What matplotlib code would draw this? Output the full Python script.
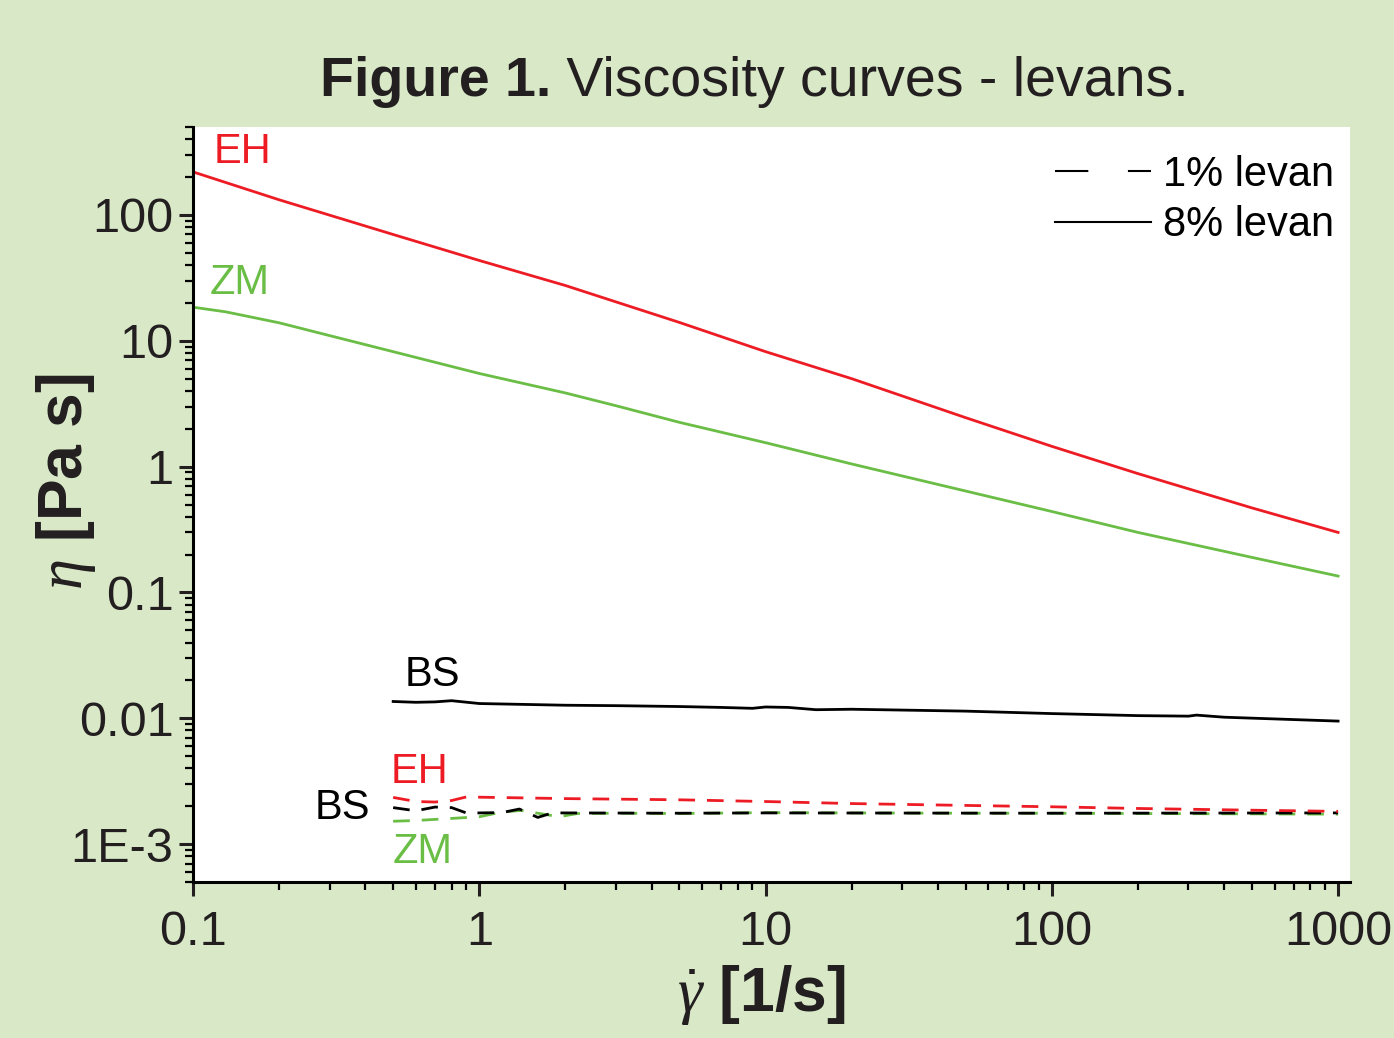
import matplotlib
matplotlib.use('Agg')
import matplotlib.pyplot as plt
from matplotlib.lines import Line2D
from matplotlib.ticker import LogLocator, FixedLocator, FixedFormatter, NullFormatter

plt.rcParams['font.family'] = ['Liberation Sans', 'DejaVu Sans']
plt.rcParams['mathtext.fontset'] = 'custom'
plt.rcParams['mathtext.rm'] = 'Liberation Sans'
plt.rcParams['mathtext.it'] = 'Liberation Serif:italic'
plt.rcParams['mathtext.bf'] = 'Liberation Sans:bold'

# datos (8% levan, lineas continuas)
x_eh8 = [0.1, 0.2, 0.5, 1, 2, 5, 10, 20, 50, 100, 200, 500, 1000]
y_eh8 = [220, 132, 70, 43.5, 27.5, 14, 8.2, 5.0, 2.45, 1.45, 0.88, 0.47, 0.30]

x_zm8 = [0.1, 0.13, 0.2, 0.3, 0.5, 1, 2, 3, 5, 10, 20, 50, 100, 200, 500, 1000]
y_zm8 = [18.5, 17.0, 13.9, 11.0, 8.2, 5.5, 3.85, 3.05, 2.25, 1.55, 1.05, 0.64, 0.44,
         0.30, 0.19, 0.135]

x_bs8 = [0.5, 0.6, 0.7, 0.8, 1.0, 2, 3, 5, 7, 9, 10, 12, 15, 20, 50, 100, 200, 300, 320, 400, 1000]
y_bs8 = [0.0136, 0.0134, 0.0135, 0.0138, 0.0131, 0.0127, 0.0126, 0.0124, 0.0122, 0.0120,
         0.0123, 0.0122, 0.0117, 0.0118, 0.0114, 0.0109, 0.0105, 0.0104, 0.0106, 0.0102, 0.0095]

# 1% levan, lineas discontinuas
x_eh1 = [0.5, 0.6, 0.7, 0.8, 0.9, 1.0, 2, 5, 10, 20, 50, 100, 200, 500, 1000]
y_eh1 = [0.00235, 0.00218, 0.00216, 0.00222, 0.00237, 0.00236, 0.00230, 0.00225, 0.00218,
         0.00210, 0.00203, 0.00198, 0.00192, 0.00186, 0.00182]

x_bs1 = [0.5, 0.6, 0.7, 0.8, 0.9, 1.0, 1.2, 1.38, 1.6, 1.8, 2, 5, 10, 100, 1000]
y_bs1 = [0.00195, 0.00184, 0.00197, 0.00195, 0.00177, 0.00177, 0.00178, 0.00190, 0.00163,
         0.00177, 0.00177, 0.00176, 0.00177, 0.00176, 0.00177]

x_zm1 = [0.5, 0.6, 0.8, 1.0, 1.2, 1.4, 1.6, 1.9, 2.2, 3, 5, 10, 20, 50, 100, 200, 500, 1000]
y_zm1 = [0.00152, 0.00154, 0.00160, 0.00165, 0.00180, 0.00185, 0.00176, 0.00165, 0.00175,
         0.00176, 0.00175, 0.00178, 0.00177, 0.00176, 0.00176, 0.00175, 0.00174, 0.00173]

xticks = [0.1, 1, 10, 100, 1000]
xticklabels = ['0.1', '1', '10', '100', '1000']
yticks = [1e-3, 1e-2, 1e-1, 1, 10, 100]
yticklabels = ['1E-3', '0.01', '0.1', '1', '10', '100']

rojo = '#ed1c24'
verde = '#6abd45'
negro = '#000000'
fondo = '#d9e9c7'
texto = '#231f20'

fig = plt.figure(figsize=(13.94, 10.38), dpi=100, facecolor=fondo)
ax = fig.add_axes([0.1385, 0.1503, 0.8299, 0.7273])
ax.set_facecolor('white')

guion = (0, (6, 4.3))
ax.plot(x_zm1, y_zm1, color=verde, lw=2, linestyle=guion)
ax.plot(x_bs1, y_bs1, color=negro, lw=2, linestyle=guion)
ax.plot(x_eh1, y_eh1, color=rojo, lw=2, linestyle=guion)

ax.plot(x_eh8, y_eh8, color=rojo, lw=2)
ax.plot(x_zm8, y_zm8, color=verde, lw=2)
ax.plot(x_bs8, y_bs8, color=negro, lw=2)

ax.set_xscale('log')
ax.set_yscale('log')
ax.set_xlim(0.1, 1100)
ax.set_ylim(5e-4, 500)

ax.xaxis.set_major_locator(FixedLocator(xticks))
ax.xaxis.set_major_formatter(FixedFormatter(xticklabels))
ax.xaxis.set_minor_locator(LogLocator(base=10, subs=range(2, 10), numticks=20))
ax.xaxis.set_minor_formatter(NullFormatter())
ax.yaxis.set_major_locator(FixedLocator(yticks))
ax.yaxis.set_major_formatter(FixedFormatter(yticklabels))
ax.yaxis.set_minor_locator(LogLocator(base=10, subs=range(2, 10), numticks=20))
ax.yaxis.set_minor_formatter(NullFormatter())

for lado in ['top', 'right']:
    ax.spines[lado].set_visible(False)
for lado in ['left', 'bottom']:
    ax.spines[lado].set_linewidth(2.2)

ax.tick_params(which='major', direction='out', length=10, width=2.2, labelsize=35,
               pad=4, colors=texto)
ax.tick_params(axis='x', which='major', pad=10.5)
ax.tick_params(which='minor', direction='out', length=6, width=1.6)

ax.set_xlabel(r'$\dot{\gamma}$' + ' [1/s]', fontsize=45, fontweight='bold', color=texto)
ax.xaxis.set_label_coords(0.491, -0.107)
ax.set_ylabel(r'$\eta$' + ' [Pa s]', fontsize=45, fontweight='bold', color=texto)
ax.yaxis.set_label_coords(-0.082, 0.53)

# etiquetas de las curvas
ax.text(0.118, 318, 'EH', color=rojo, fontsize=30, va='center', ha='left')
ax.text(0.1147, 29, 'ZM', color=verde, fontsize=30, va='center', ha='left')
ax.text(0.55, 0.022, 'BS', color=negro, fontsize=30, va='center', ha='left')
ax.text(0.489, 0.00375, 'EH', color=rojo, fontsize=30, va='center', ha='left')
ax.text(0.416, 0.00194, 'BS', color=negro, fontsize=30, va='center', ha='right')
ax.text(0.496, 0.000863, 'ZM', color=verde, fontsize=30, va='center', ha='left')

leyenda = [Line2D([], [], color='k', lw=1.5, dashes=(16, 19)),
           Line2D([], [], color='k', lw=1.5)]
ax.legend(leyenda, ['1% levan', '8% levan'], loc='upper right',
          bbox_to_anchor=(1.019, 1.013), frameon=False, fontsize=30,
          handlelength=2.3, handletextpad=0.3, labelspacing=0.25)

# titulo: parte en negrita y parte normal
t1 = fig.text(320 / 1394, 0.9075, 'Figure 1.', fontsize=40, fontweight='bold',
              ha='left', va='baseline', color=texto)
ax.annotate(' Viscosity curves - levans.', xy=(1, 0), xycoords=t1, fontsize=40,
            ha='left', va='bottom', color=texto, annotation_clip=False)

plt.savefig('out.png', dpi=100, facecolor=fondo)
